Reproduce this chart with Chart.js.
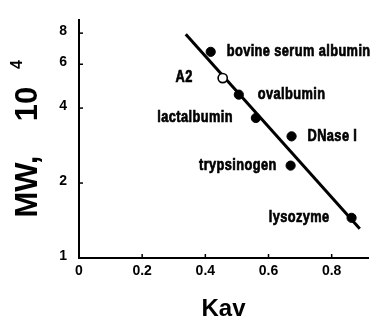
<!DOCTYPE html>
<html><head><meta charset="utf-8">
<script src="https://cdn.jsdelivr.net/npm/chart.js@4/dist/chart.umd.min.js"></script>
<style>html,body{margin:0;padding:0;background:#fff;overflow:hidden}canvas{display:block}</style>
</head><body>
<canvas id="c" width="376" height="322"></canvas>
<script>
// ---- data ----
const proteins = ['bovine serum albumin', 'A2', 'ovalbumin', 'lactalbumin', 'DNase I', 'trypsinogen', 'lysozyme'];
const kav = [0.417, 0.455, 0.506, 0.560, 0.673, 0.670, 0.863];
const mw = [6.73, 5.28, 4.53, 3.65, 3.08, 2.35, 1.45];
const isUnknown = [false, true, false, false, false, false, false];
const fitKav = [0.338, 0.889];
const fitMw = [7.91, 1.31];
const xTicks = [0, 0.2, 0.4, 0.6, 0.8];
const xTickLabels = ['0', '0.2', '0.4', '0.6', '0.8'];
const yTicks = [1, 2, 4, 6, 8];
const yTickLabels = ['1', '2', '4', '6', '8'];

// ---- label placement (style only) ----
const labelSide = ['right', 'left', 'right', 'left', 'right', 'left', 'left'];
const labelGap = [16, 30, 19, 23, 16, 14, 22];

const FONT = "'Liberation Sans', Arial, Helvetica, sans-serif";

const tickMarks = {
  id: 'tickMarks',
  afterDraw(chart) {
    const {ctx, chartArea, scales: {x, y}} = chart;
    ctx.save();
    ctx.strokeStyle = '#000';
    ctx.lineWidth = 1.5;
    xTicks.forEach(v => {
      if (v === 0) return;
      const px = x.getPixelForValue(v);
      ctx.beginPath(); ctx.moveTo(px, chartArea.bottom); ctx.lineTo(px, chartArea.bottom - 4); ctx.stroke();
    });
    yTicks.forEach(v => {
      if (v === 1) return;
      const py = y.getPixelForValue(v);
      ctx.beginPath(); ctx.moveTo(chartArea.left, py); ctx.lineTo(chartArea.left + 4, py); ctx.stroke();
    });
    // superscript exponent of the y title
    ctx.fillStyle = '#000';
    ctx.font = 'bold 16px ' + FONT;
    ctx.textAlign = 'center';
    ctx.textBaseline = 'middle';
    ctx.translate(18, 64.5);
    ctx.rotate(-Math.PI / 2);
    ctx.fillText('4', 0, 0);
    ctx.restore();
  }
};

const pointLabels = {
  id: 'pointLabels',
  afterDatasetsDraw(chart) {
    const {ctx, scales: {x, y}} = chart;
    ctx.save();
    ctx.fillStyle = '#000';
    ctx.strokeStyle = '#000';
    ctx.lineWidth = 0.7;
    ctx.font = 'bold 16px ' + FONT;
    ctx.textBaseline = 'middle';
    try { ctx.letterSpacing = '0.5px'; } catch (e) {}
    proteins.forEach((name, i) => {
      const px = x.getPixelForValue(kav[i]);
      const py = y.getPixelForValue(mw[i]);
      const right = labelSide[i] === 'right';
      const ax = right ? px + labelGap[i] : px - labelGap[i];
      ctx.save();
      ctx.translate(ax, py);
      ctx.scale(0.8, 1);
      ctx.textAlign = right ? 'left' : 'right';
      ctx.fillText(name, 0, 0);
      ctx.strokeText(name, 0, 0);
      ctx.restore();
    });
    ctx.restore();
  }
};

new Chart(document.getElementById('c'), {
  type: 'scatter',
  data: {
    datasets: [
      {
        label: 'proteins',
        data: kav.map((v, i) => ({x: v, y: mw[i]})),
        pointRadius: 4.6,
        pointBackgroundColor: isUnknown.map(u => u ? '#fff' : '#000'),
        pointBorderColor: '#000',
        pointBorderWidth: isUnknown.map(u => u ? 1.6 : 1),
        showLine: false,
        order: 0
      },
      {
        label: 'fit',
        type: 'line',
        data: fitKav.map((v, i) => ({x: v, y: fitMw[i]})),
        borderColor: '#000',
        borderWidth: 3,
        pointRadius: 0,
        fill: false,
        order: 1
      }
    ]
  },
  options: {
    responsive: false,
    animation: false,
    devicePixelRatio: 1,
    layout: {padding: {left: 0, right: 8, top: 13, bottom: 0}},
    plugins: {legend: {display: false}, tooltip: {enabled: false}},
    scales: {
      x: {
        type: 'linear', min: 0, max: 0.915,
        grid: {display: false, drawTicks: false},
        border: {display: true, color: '#000', width: 2},
        afterBuildTicks: s => { s.ticks = xTicks.map(v => ({value: v})); },
        afterFit: s => { s.height = 64; },
        ticks: {
          padding: 5, color: '#000', autoSkip: false, maxRotation: 0,
          font: {family: FONT, size: 14, weight: 'bold'},
          callback: v => { const k = xTicks.indexOf(v); return k >= 0 ? xTickLabels[k] : ''; }
        },
        title: {display: true, text: 'Kav', color: '#000', font: {family: FONT, size: 24, weight: 'bold'}, padding: {top: 0, bottom: -2}}
      },
      y: {
        type: 'logarithmic', min: 1, max: 9,
        grid: {display: false, drawTicks: false},
        border: {display: true, color: '#000', width: 2},
        afterBuildTicks: s => { s.ticks = yTicks.map(v => ({value: v})); },
        afterFit: s => { s.width = 79; },
        ticks: {
          padding: 12, labelOffset: -2, color: '#000', autoSkip: false,
          font: {family: FONT, size: 14, weight: 'bold'},
          callback: v => { const k = yTicks.indexOf(v); return k >= 0 ? yTickLabels[k] : ''; }
        },
        title: {display: true, text: 'MW,    10   ', color: '#000', font: {family: FONT, size: 31, weight: 'bold'}, padding: {top: 10, bottom: 0}}
      }
    }
  },
  plugins: [tickMarks, pointLabels]
});
</script>
</body></html>
